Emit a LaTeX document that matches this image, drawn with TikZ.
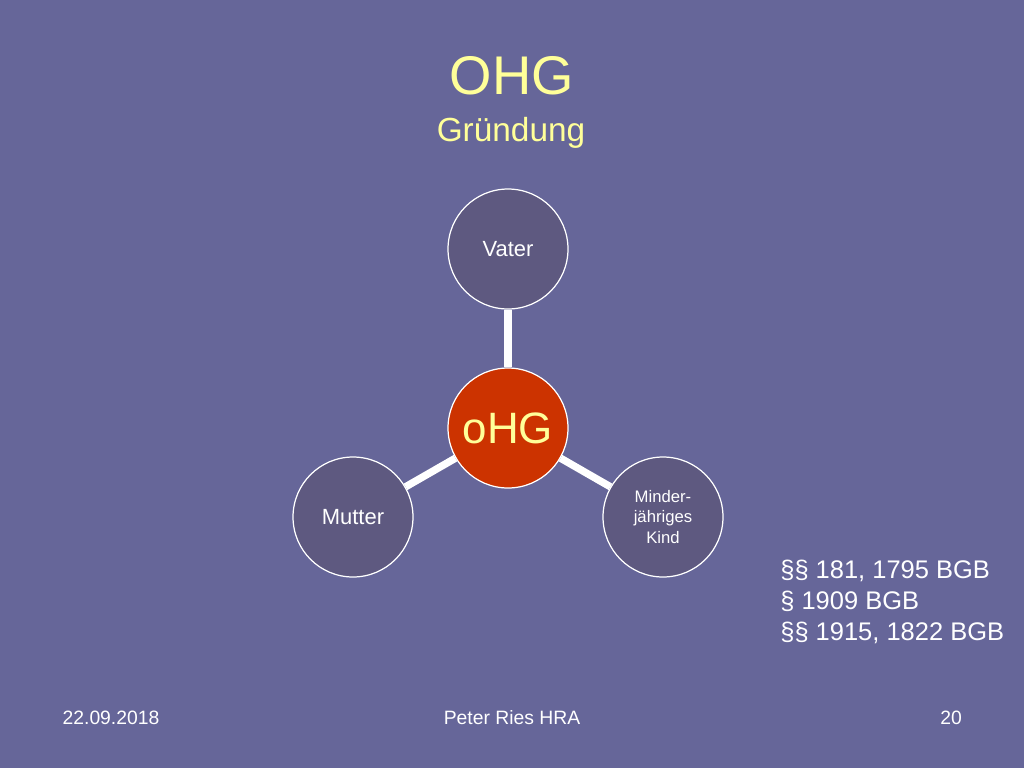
\documentclass[tikz,border=0pt]{standalone}
\usepackage{fontspec}
\setmainfont{Liberation Sans}
\definecolor{slidebg}{RGB}{102,102,153}
\definecolor{satfill}{RGB}{94,89,128}
\definecolor{ohgred}{RGB}{204,51,0}
\definecolor{titleyellow}{RGB}{255,255,153}

\begin{document}
\begin{tikzpicture}[x=0.02cm,y=-0.02cm,
  person/.style={circle,draw=white,line width=0.7pt,fill=satfill,minimum size=2.4cm,inner sep=0pt,text=white,align=center},
  link/.style={white,line width=4.2pt},
  para/.style={text=white,anchor=base west,inner sep=0pt,font=\fontsize{14.5}{17}\selectfont},
  foot/.style={text=white,anchor=base,font=\fontsize{11}{13}\selectfont}]
\fill[slidebg] (0,0) rectangle (1024,768);

% Titel
\node[titleyellow,anchor=base,font=\fontsize{31}{36}\selectfont] (titel) at (512,94) {OHG};
\node[titleyellow,anchor=base,font=\fontsize{19}{23}\selectfont] (untertitel) at (511,141) {Gründung};

% Gesellschafter
\node[person,fill=ohgred,text=titleyellow,font=\fontsize{25}{30}\selectfont] (ohg) at (508,428) {oHG};
\node[person,font=\fontsize{12.5}{15}\selectfont] (vater) at (508,249) {Vater};
\node[person,font=\fontsize{12.5}{15}\selectfont] (mutter) at (353,517) {Mutter};
\node[person,font=\fontsize{9.5}{11.5}\selectfont] (kind) at (663,517) {Minder-\\jähriges\\Kind};

\draw[link] (ohg) -- (vater);
\draw[link] (ohg) -- (mutter);
\draw[link] (ohg) -- (kind);

% Normen
\foreach \zeile [count=\i] in {{§§ 181, 1795 BGB},{§ 1909 BGB},{§§ 1915, 1822 BGB}}
  \node[para] (norm\i) at (780,547+31*\i) {\zeile};

% Fusszeile
\node[foot] (datum) at (111,724) {22.09.2018};
\node[foot] (autor) at (512,724) {Peter Ries HRA};
\node[foot] (seite) at (951,724) {20};
\end{tikzpicture}
\end{document}
